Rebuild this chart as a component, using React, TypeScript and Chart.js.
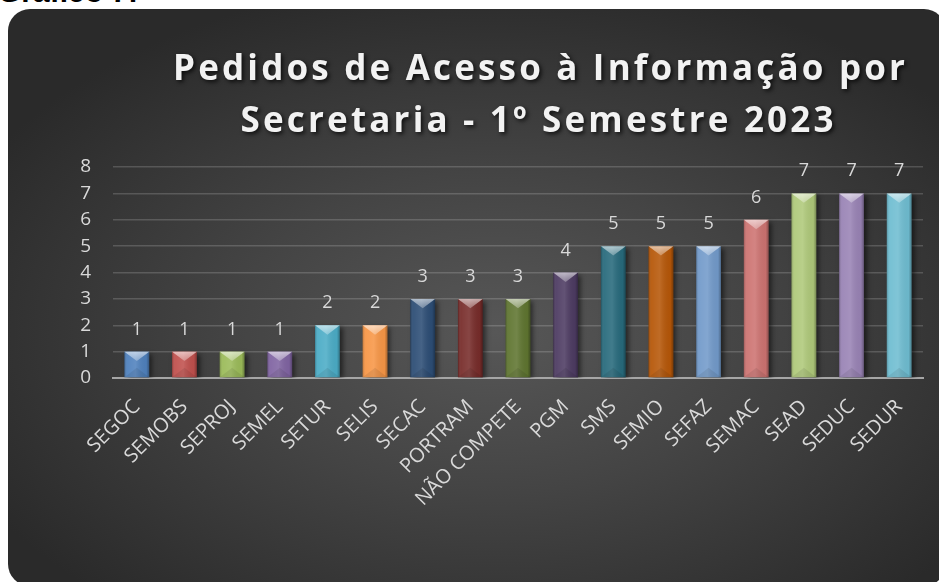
import React, { useEffect, useRef } from 'react';
import { Chart, registerables } from 'chart.js';

Chart.register(...registerables);

const categories = ['SEGOC', 'SEMOBS', 'SEPROJ', 'SEMEL', 'SETUR', 'SELIS', 'SECAC', 'PORTRAM', 'NÃO COMPETE', 'PGM', 'SMS', 'SEMIO', 'SEFAZ', 'SEMAC', 'SEAD', 'SEDUC', 'SEDUR'];
const values = [1, 1, 1, 1, 2, 2, 3, 3, 3, 4, 5, 5, 5, 6, 7, 7, 7];
const barColors = ['#4F81BD', '#C0504D', '#9BBB59', '#8064A2', '#4BACC6', '#F79646', '#2C4D75', '#772C2A', '#5F7530', '#4D3B62', '#276A7C', '#B65708', '#729ACA', '#CD7371', '#AFC97A', '#9983B5', '#6FBDD1'];
const yMin = 0;
const yMax = 8;
const yStep = 1;
const titleLines = ['Pedidos de Acesso à Informação por', 'Secretaria - 1º Semestre 2023'];
const headingText = 'Gráfico 7:';

const FONT = '"Open Sans", "DejaVu Sans", sans-serif';

const shadowPlugin = {
  id: 'barShadow',
  beforeDatasetsDraw(chart: any) {
    const ctx = chart.ctx;
    ctx.save();
    ctx.shadowColor = 'rgba(0,0,0,0.55)';
    ctx.shadowBlur = 5;
    ctx.shadowOffsetX = 3;
    ctx.shadowOffsetY = 2;
  },
  afterDatasetsDraw(chart: any) {
    chart.ctx.restore();
  },
};

const bevelPlugin = {
  id: 'bevel',
  afterDatasetsDraw(chart: any) {
    const ctx = chart.ctx;
    const meta = chart.getDatasetMeta(0);
    meta.data.forEach((bar: any) => {
      const { x, y, base, width } = bar.getProps(['x', 'y', 'base', 'width'], true);
      const l = x - width / 2;
      const r = x + width / 2;
      const t = y;
      const b = base;
      ctx.save();
      const g = ctx.createLinearGradient(l, 0, r, 0);
      g.addColorStop(0, 'rgba(0,0,0,0.22)');
      g.addColorStop(0.12, 'rgba(255,255,255,0.06)');
      g.addColorStop(0.45, 'rgba(255,255,255,0.12)');
      g.addColorStop(0.88, 'rgba(0,0,0,0.04)');
      g.addColorStop(1, 'rgba(0,0,0,0.32)');
      ctx.fillStyle = g;
      ctx.fillRect(l, t, r - l, b - t);
      const depth = Math.min(width * 0.38, (b - t) / 2);
      const cap = ctx.createLinearGradient(0, t, 0, t + depth);
      cap.addColorStop(0, 'rgba(255,255,255,0.6)');
      cap.addColorStop(1, 'rgba(255,255,255,0.28)');
      ctx.fillStyle = cap;
      ctx.beginPath();
      ctx.moveTo(l, t);
      ctx.lineTo(r, t);
      ctx.lineTo(x, t + depth);
      ctx.closePath();
      ctx.fill();
      ctx.fillStyle = 'rgba(0,0,0,0.08)';
      ctx.beginPath();
      ctx.moveTo(l, b);
      ctx.lineTo(r, b);
      ctx.lineTo(x, b - depth);
      ctx.closePath();
      ctx.fill();
      ctx.restore();
    });
  },
};

const labelPlugin = {
  id: 'valueLabels',
  afterDatasetsDraw(chart: any) {
    const ctx = chart.ctx;
    const meta = chart.getDatasetMeta(0);
    const data = chart.data.datasets[0].data;
    ctx.save();
    ctx.font = `18px ${FONT}`;
    ctx.fillStyle = '#d9d9d9';
    ctx.textAlign = 'center';
    ctx.textBaseline = 'alphabetic';
    meta.data.forEach((bar: any, i: number) => {
      ctx.fillText(String(data[i]), bar.x, bar.y - 17);
    });
    ctx.restore();
  },
};

const titlePlugin = {
  id: 'customTitle',
  afterDraw(chart: any) {
    const ctx = chart.ctx;
    ctx.save();
    ctx.font = `bold 35px ${FONT}`;
    (ctx as any).letterSpacing = '0px';
    const natural = ctx.measureText(titleLines[0]).width;
    const spacing = Math.max(0, (732 - natural) / (titleLines[0].length - 1));
    (ctx as any).letterSpacing = `${spacing}px`;
    ctx.textAlign = 'left';
    ctx.textBaseline = 'alphabetic';
    ctx.fillStyle = '#f2f2f2';
    ctx.shadowColor = 'rgba(0,0,0,0.75)';
    ctx.shadowBlur = 4;
    ctx.shadowOffsetX = 2;
    ctx.shadowOffsetY = 2;
    const centers = [539, 537];
    const baselines = [80, 132];
    titleLines.forEach((line, i) => {
      const w = ctx.measureText(line).width - spacing;
      ctx.fillText(line, centers[i] - w / 2, baselines[i]);
    });
    ctx.restore();
  },
};

export default function App() {
  const canvasRef = useRef<HTMLCanvasElement | null>(null);

  useEffect(() => {
    if (!canvasRef.current) return;
    const chart = new Chart(canvasRef.current, {
      type: 'bar',
      data: {
        labels: categories,
        datasets: [
          {
            data: values,
            backgroundColor: barColors,
            borderWidth: 0,
            barPercentage: 0.52,
            categoryPercentage: 1,
          },
        ],
      },
      options: {
        responsive: false,
        animation: false,
        layout: { padding: { left: 60, right: 16, top: 167, bottom: 54 } },
        plugins: {
          legend: { display: false },
          title: { display: false },
          tooltip: { enabled: false },
        },
        scales: {
          x: {
            grid: { display: false, drawTicks: false },
            border: { display: true, color: '#a6a6a6', width: 2 },
            ticks: {
              color: '#d9d9d9',
              font: { family: FONT, size: 20 },
              minRotation: 45,
              maxRotation: 45,
              padding: 17,
              autoSkip: false,
            },
            afterFit(scale: any) {
              scale.height = 150;
            },
          },
          y: {
            min: yMin,
            max: yMax,
            grid: { color: 'rgba(255,255,255,0.17)', lineWidth: 1.5, drawTicks: false },
            border: { display: false },
            ticks: {
              stepSize: yStep,
              color: '#d9d9d9',
              font: { family: FONT, size: 19 },
              padding: 22,
            },
            afterFit(scale: any) {
              scale.width = 53;
            },
          },
        },
      },
      plugins: [shadowPlugin, bevelPlugin, labelPlugin, titlePlugin],
    });
    return () => chart.destroy();
  }, []);

  return (
    <div style={{ position: 'fixed', left: 0, top: 0, width: 939, height: 582, overflow: 'hidden', background: '#ffffff' }}>
      <div
        style={{
          position: 'absolute',
          left: -2,
          top: -23,
          fontFamily: '"Liberation Sans", Arial, sans-serif',
          fontWeight: 'bold',
          fontSize: 30,
          lineHeight: '30px',
          color: '#000',
          whiteSpace: 'nowrap',
        }}
      >
        {headingText}
      </div>
      <div
        style={{
          position: 'absolute',
          left: 8,
          top: 9,
          width: 938,
          height: 577,
          borderRadius: 22,
          background: 'radial-gradient(ellipse 62% 62% at 52% 56%, #575757 0%, #444444 45%, #2a2a2a 100%)',
        }}
      />
      <canvas ref={canvasRef} width={939} height={582} style={{ position: 'absolute', left: 0, top: 0, width: 939, height: 582 }} />
    </div>
  );
}
